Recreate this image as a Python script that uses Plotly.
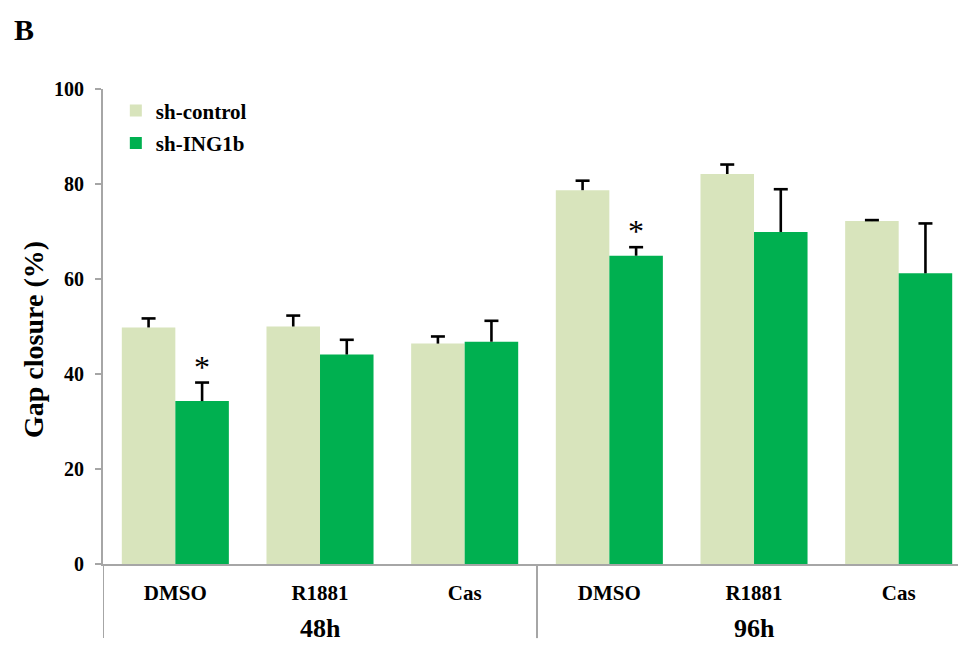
import plotly.graph_objects as go

# Wound-healing gap closure, grouped by treatment and time point
treatments = ["DMSO", "R1881", "Cas", "DMSO", "R1881", "Cas"]
time_points = ["48h", "96h"]
series_names = ["sh-control", "sh-ING1b"]
sh_control = [49.8, 50.0, 46.4, 78.7, 82.1, 72.2]
sh_control_err = [1.9, 2.3, 1.5, 2.0, 2.0, 0.2]
sh_ing1b = [34.3, 44.1, 46.8, 64.9, 69.9, 61.2]
sh_ing1b_err = [3.9, 3.1, 4.4, 1.8, 9.0, 10.5]
significant = [True, False, False, True, False, False]
y_ticks = [0, 20, 40, 60, 80, 100]

FONT = "Liberation Serif"
LIGHT = "#d8e4bc"
GREEN = "#00b050"
AXIS = "#a6a6a6"
BARGAP = 0.26

x = list(range(len(treatments)))
half_bar = (1 - BARGAP) / 4  # offset of each bar centre within its group

fig = go.Figure()
series = [
    (series_names[0], sh_control, sh_control_err, LIGHT, "a", -half_bar),
    (series_names[1], sh_ing1b, sh_ing1b_err, GREEN, "b", half_bar),
]
for name, vals, errs, color, grp, off in series:
    fig.add_trace(go.Bar(
        x=x, y=vals, name=name, marker=dict(color=color, line=dict(width=0)),
        legendgroup=grp,
    ))

# one-sided (upper) error bars: cap marker at the top, stem down to the bar
for name, vals, errs, color, grp, off in series:
    fig.add_trace(go.Scatter(
        x=[i + off for i in x], y=[v + e for v, e in zip(vals, errs)],
        mode="markers", showlegend=False, hoverinfo="skip",
        marker=dict(symbol="line-ew", size=10, color="black",
                    line=dict(color="black", width=2.6)),
        error_y=dict(type="data", array=[0] * len(errs), arrayminus=errs,
                     symmetric=False, color="black", thickness=2.6, width=0),
    ))

# significance markers above the sh-ING1b bars
for i, flag in enumerate(significant):
    if flag:
        fig.add_annotation(
            x=i + half_bar, y=sh_ing1b[i] + sh_ing1b_err[i], xref="x", yref="y",
            text="*", showarrow=False, yanchor="bottom", yshift=-4,
            font=dict(family=FONT, size=32, color="black"),
        )

# group separators below the axis
for xv in [-0.5, 2.5]:
    fig.add_shape(type="line", xref="x", yref="paper", x0=xv, x1=xv,
                  y0=0, y1=-0.156, line=dict(color=AXIS, width=2))

# time point labels
for k, label in enumerate(time_points):
    fig.add_annotation(
        x=3 * k + 1, y=-(628 - 564) / 475, xref="x", yref="paper",
        text=f"<b>{label}</b>", showarrow=False, yanchor="middle",
        font=dict(family=FONT, size=26, color="black"),
    )

# y-axis title
fig.add_annotation(
    x=-(103 - 33) / 855, y=(564 - 340) / 475, xref="paper", yref="paper",
    text="<b>Gap closure (%)</b>", textangle=-90, showarrow=False,
    xanchor="center", yanchor="middle",
    font=dict(family=FONT, size=28, color="black"),
)

# panel letter
fig.add_annotation(
    x=-91 / 855, y=1 + (89 - 30) / 475, xref="paper", yref="paper",
    text="<b>B</b>", showarrow=False, xanchor="left", yanchor="middle",
    font=dict(family=FONT, size=30, color="black"),
)

fig.update_layout(
    width=958, height=645,
    margin=dict(l=103, r=0, t=89, b=81),
    paper_bgcolor="white", plot_bgcolor="white",
    barmode="group", bargap=BARGAP, bargroupgap=0,
    font=dict(family=FONT, color="black"),
    showlegend=True,
    legend=dict(x=0.015, y=0.997, xanchor="left", yanchor="top",
                bgcolor="rgba(0,0,0,0)", tracegroupgap=2,
                font=dict(family=FONT, size=21, color="black", weight="bold")),
    xaxis=dict(
        range=[-0.5, 5.41], tickvals=x, ticktext=[f"<b>{t}</b>" for t in treatments],
        showline=True, linecolor=AXIS, linewidth=2, ticks="", showgrid=False,
        zeroline=False, tickfont=dict(family=FONT, size=21, color="black"),
        ticklabelstandoff=9,
    ),
    yaxis=dict(
        range=[0, 100], tickvals=y_ticks, ticktext=[f"<b>{v}</b>" for v in y_ticks],
        showline=True, linecolor=AXIS, linewidth=2, ticks="outside",
        ticklen=6, tickwidth=2, tickcolor=AXIS, showgrid=False, zeroline=False,
        tickfont=dict(family=FONT, size=20, color="black"),
        ticklabelstandoff=7,
    ),
)

fig.write_html("out.html")
